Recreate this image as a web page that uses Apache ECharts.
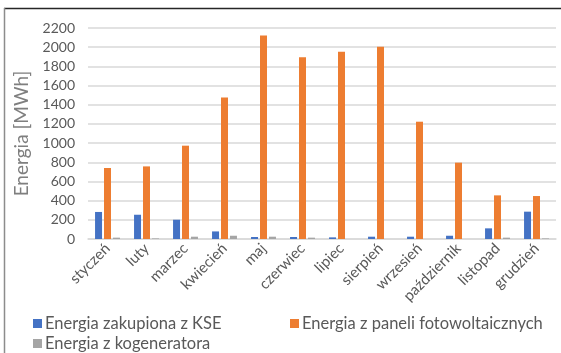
<!DOCTYPE html>
<html>
<head>
<meta charset="utf-8">
<script src="https://cdn.jsdelivr.net/npm/echarts@6/dist/echarts.min.js"></script>
<style>
  html, body { margin: 0; padding: 0; background: #fff; }
  #chart { width: 561px; height: 353px; }
</style>
</head>
<body>
<div id="chart"></div>
<script>
// Monthly energy sources (MWh)
const months = ['styczeń', 'luty', 'marzec', 'kwiecień', 'maj', 'czerwiec', 'lipiec', 'sierpień', 'wrzesień', 'październik', 'listopad', 'grudzień'];
const zakupionaKSE = [282, 253, 201, 79, 21, 21, 17, 24, 24, 34, 111, 285];
const fotowoltaika = [740, 757, 973, 1476, 2123, 1894, 1953, 2005, 1223, 796, 455, 448];
const kogenerator = [14, 6, 24, 34, 24, 14, 0, 0, 0, 0, 14, 6];
const yTicks = { min: 0, max: 2200, interval: 200 };

const seriesNames = ['Energia zakupiona z KSE', 'Energia z paneli fotowoltaicznych', 'Energia z kogeneratora'];
const colors = ['#4472c4', '#ed7d31', '#a5a5a5'];
const font = 'Lato, "Open Sans", sans-serif';
const textColor = '#595959';

const chart = echarts.init(document.getElementById('chart'), null, { renderer: 'canvas' });

function legendAt(name, left, top) {
  return {
    data: [name], left: left, top: top, orient: 'horizontal',
    itemWidth: 9, itemHeight: 9, itemGap: 4, icon: 'rect',
    textStyle: { fontFamily: font, fontSize: 16.5, color: textColor, padding: [0, 0, 0, -2] },
    padding: 0
  };
}

chart.setOption({
  animation: false,
  color: colors,
  graphic: [
    { type: 'line', shape: { x1: 4, y1: 8.5, x2: 561, y2: 8.5 }, style: { stroke: '#262626', lineWidth: 1.5 } },
    { type: 'line', shape: { x1: 4.5, y1: 8, x2: 4.5, y2: 353 }, style: { stroke: '#8c8c8c', lineWidth: 1.5 } }
  ],
  grid: { left: 88, right: 5, top: 28, bottom: 114, containLabel: false },
  legend: [
    legendAt(seriesNames[0], 33, 315),
    legendAt(seriesNames[1], 290, 315),
    legendAt(seriesNames[2], 33, 335)
  ],
  xAxis: {
    type: 'category',
    data: months,
    axisLine: { lineStyle: { color: '#d9d9d9', width: 1.5 } },
    axisTick: { show: false },
    axisLabel: { rotate: 45, interval: 0, margin: 7, fontFamily: font, fontSize: 15, color: textColor }
  },
  yAxis: {
    type: 'value',
    min: yTicks.min, max: yTicks.max, interval: yTicks.interval,
    name: 'Energia [MWh]',
    nameLocation: 'middle',
    nameGap: 55,
    nameRotate: 90,
    nameTextStyle: { fontFamily: font, fontSize: 19, color: '#7f7f7f' },
    axisLine: { show: false },
    axisTick: { show: false },
    splitLine: { lineStyle: { color: '#d9d9d9', width: 1.5 } },
    axisLabel: { margin: 13, fontFamily: font, fontSize: 14, color: textColor, formatter: v => String(v) }
  },
  series: [
    { name: seriesNames[0], type: 'bar', data: zakupionaKSE, barWidth: 7, barGap: '28%' },
    { name: seriesNames[1], type: 'bar', data: fotowoltaika, barWidth: 7, barGap: '28%' },
    { name: seriesNames[2], type: 'bar', data: kogenerator, barWidth: 7, barGap: '28%' }
  ]
});
</script>
</body>
</html>
